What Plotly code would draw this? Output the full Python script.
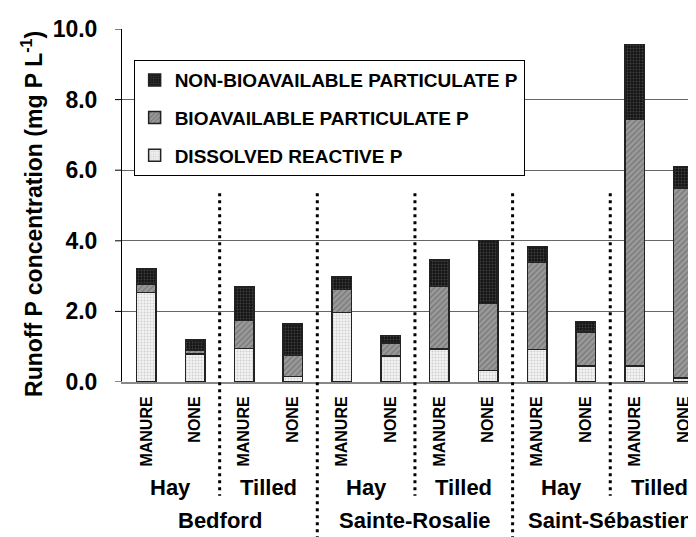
import plotly.graph_objects as go

# ---- data ----
sites = ["Bedford", "Sainte-Rosalie", "Saint-Sébastien"]
systems = ["Hay", "Tilled", "Hay", "Tilled", "Hay", "Tilled"]
treatments = ["MANURE", "NONE", "MANURE", "NONE", "MANURE", "NONE",
              "MANURE", "NONE", "MANURE", "NONE", "MANURE", "NONE"]
dissolved_reactive_p = [2.54, 0.80, 0.95, 0.16, 1.97, 0.74, 0.93, 0.33, 0.92, 0.46, 0.46, 0.12]
bioavailable_part_p = [0.24, 0.09, 0.79, 0.59, 0.65, 0.37, 1.78, 1.89, 2.46, 0.96, 6.98, 5.38]
nonbioavailable_part_p = [0.42, 0.30, 0.95, 0.89, 0.35, 0.21, 0.74, 1.79, 0.46, 0.30, 2.12, 0.60]
y_ticks = [0, 2, 4, 6, 8, 10]

FONT = "Liberation Sans, Arial, sans-serif"
xpos = list(range(len(treatments)))

fig = go.Figure()
series = [
    ("DISSOLVED REACTIVE P", dissolved_reactive_p, 3,
     dict(shape=".", bgcolor="#f4f4f4", fgcolor="#a8a8a8", size=3, solidity=0.35)),
    ("BIOAVAILABLE PARTICULATE P", bioavailable_part_p, 2,
     dict(shape="/", bgcolor="#9a9a9a", fgcolor="#555555", size=4, solidity=0.35)),
    ("NON-BIOAVAILABLE PARTICULATE P", nonbioavailable_part_p, 1,
     dict(shape=".", bgcolor="#151515", fgcolor="#6a6a6a", size=3, solidity=0.3)),
]
for i, (name, vals, rank, pat) in enumerate(series):
    fig.add_trace(go.Bar(
        x=xpos, y=vals, name=name, width=0.4, legendgroup=f"g{i}", legendrank=rank,
        marker=dict(color=pat["bgcolor"], pattern=pat,
                    line=dict(color="#222222", width=1.5)),
    ))

ROW1_Y = -0.300
ROW2_Y = -0.391
annotations = []
for k, s in enumerate(systems):
    annotations.append(dict(x=2 * k + 0.5, y=ROW1_Y, xref="x", yref="paper",
                            text=f"<b>{s}</b>", showarrow=False, yanchor="middle",
                            font=dict(family=FONT, size=22, color="black")))
for k, s in enumerate(sites):
    annotations.append(dict(x=4 * k + 1.5, y=ROW2_Y, xref="x", yref="paper",
                            text=f"<b>{s}</b>", showarrow=False, yanchor="middle",
                            font=dict(family=FONT, size=22, color="black")))
# y-axis title
annotations.append(dict(x=0, y=0.476, xref="paper", yref="paper", xshift=-90,
                        xanchor="center", yanchor="middle", textangle=-90, showarrow=False,
                        text="<b>Runoff P concentration (mg P L<sup>-1</sup>)</b>",
                        font=dict(family=FONT, size=23, color="black")))

shapes = []
for xs in [1.5, 5.5, 9.5]:
    shapes.append(dict(type="line", xref="x", yref="paper", x0=xs, x1=xs,
                       y0=0.535, y1=-0.322,
                       line=dict(color="black", width=3, dash="3px,4px")))
for xs in [3.5, 7.5]:
    shapes.append(dict(type="line", xref="x", yref="paper", x0=xs, x1=xs,
                       y0=0.535, y1=-0.47,
                       line=dict(color="black", width=3, dash="3px,4px")))
# short visible tick marks on the y axis (the axis' own ticks are transparent spacers)
for v in y_ticks:
    shapes.append(dict(type="line", xref="paper", xsizemode="pixel", xanchor=0,
                       x0=-7, x1=0, yref="y", y0=v, y1=v,
                       line=dict(color="#888888" if v == 0 else "black",
                                 width=2 if v == 0 else 1)))

fig.update_layout(
    width=696, height=537,
    margin=dict(l=114, r=0, t=21, b=163),
    paper_bgcolor="white", plot_bgcolor="white",
    barmode="stack",
    font=dict(family=FONT, color="black"),
    showlegend=True,
    legend=dict(x=0.02, y=0.912, xanchor="left", yanchor="top",
                bgcolor="white", bordercolor="black", borderwidth=1,
                traceorder="grouped", tracegroupgap=10,
                font=dict(family=FONT, size=19, color="black", weight="bold")),
    annotations=annotations,
    shapes=shapes,
)
fig.update_xaxes(
    range=[-0.5, 11.42], tickmode="array", tickvals=xpos,
    ticktext=[f"<b>{t}</b>" for t in treatments],
    tickangle=-90, ticks="", ticklabelstandoff=6,
    tickfont=dict(family=FONT, size=16, color="black", weight="bold"),
    showline=True, linecolor="#888888", linewidth=2, showgrid=False, zeroline=False,
)
fig.update_yaxes(
    range=[0, 10], tickmode="array", tickvals=y_ticks,
    ticktext=[f"<b>{v:.1f}</b>" for v in y_ticks],
    ticks="outside", ticklen=19, tickcolor="rgba(0,0,0,0)", tickwidth=1,
    showline=True, linecolor="black", linewidth=1,
    showgrid=True, gridcolor="#666666", gridwidth=1, zeroline=False,
    tickfont=dict(family=FONT, size=23, color="black", weight="bold"),
)

fig.write_html("out.html")
